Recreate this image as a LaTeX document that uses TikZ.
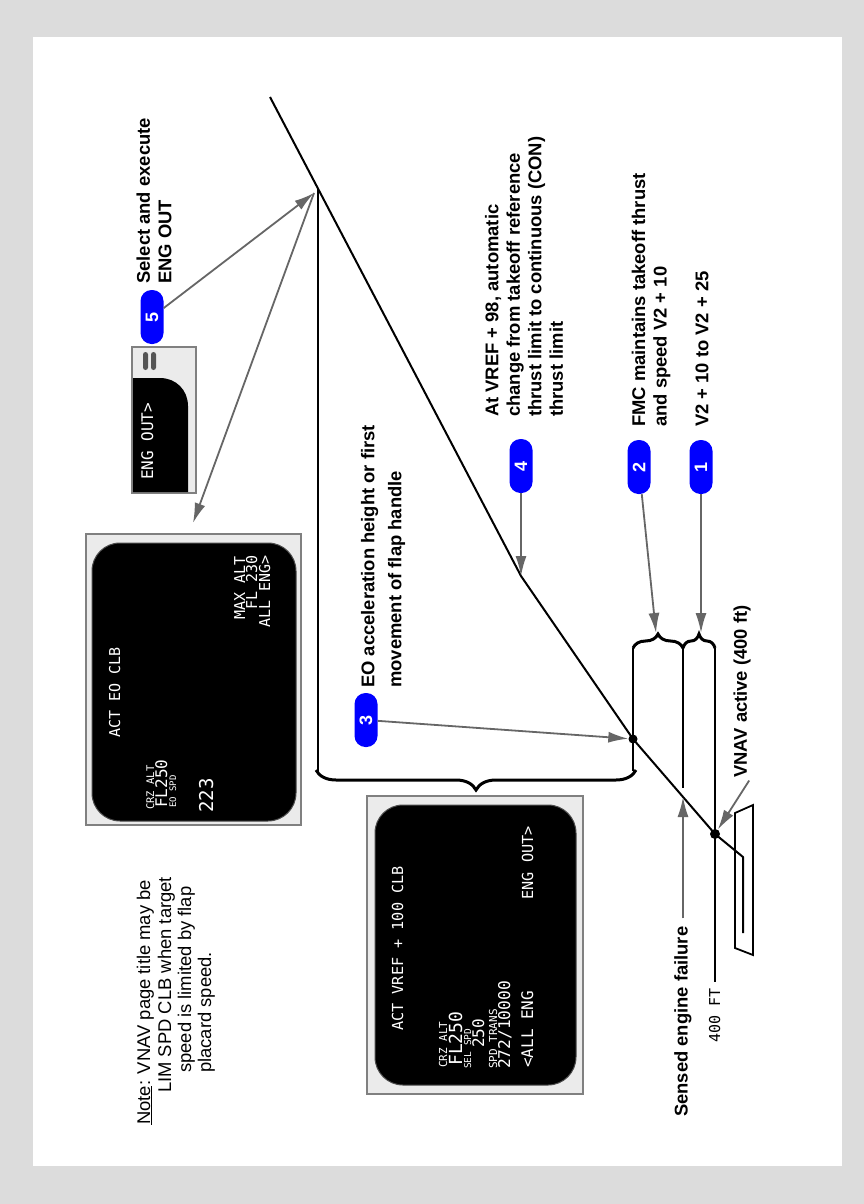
\documentclass[tikz,border=0pt]{standalone}
\usepackage{fontspec}
\setmainfont{Liberation Sans}
\newfontfamily\cdufont{DejaVu Sans Mono}
\usetikzlibrary{arrows.meta,decorations.pathreplacing}
\definecolor{bg}{HTML}{DCDCDC}
\definecolor{scrfill}{HTML}{EBEBEB}
\definecolor{scrline}{HTML}{808080}
\definecolor{arrgray}{HTML}{666666}
\definecolor{pillblue}{HTML}{0000FF}
\definecolor{barcol}{HTML}{555555}
\newcommand{\cdusz}[1]{\cdufont\fontsize{#1}{#1}\selectfont}
\begin{document}
\begin{tikzpicture}[x=1pt,y=-1pt,
  lbl/.style={rotate=90, inner sep=0pt, align=left, font=\bfseries\fontsize{18.4}{21.5}\selectfont},
  notetxt/.style={rotate=90, inner sep=0pt, anchor=base west, font=\fontsize{18.4}{21}\selectfont},
  cdu/.style={rotate=90, inner sep=0pt, text=white},
  pill/.style={rotate=90, fill=pillblue, text=white, minimum width=54pt, minimum height=23pt, rounded corners=11pt, inner sep=0pt, font=\bfseries\fontsize{18}{18}\selectfont},
  arr/.style={draw=arrgray, line width=1.8pt, -{Latex[length=20pt,width=11pt]}},
  fpath/.style={line width=2pt, line join=round},
  vline/.style={line width=2.2pt},
  brc/.style={line width=3pt, decorate},
  dot/.style={circle, fill=black, inner sep=0pt},
  scrbox/.style={fill=scrfill, draw=scrline, line width=1.6pt},
  scrblack/.style={fill=black, draw=black!70!white, line width=1pt, rounded corners=28pt}
]
% background
\fill[bg] (0,0) rectangle (864,1204);
\fill[white] (33,37) rectangle (842,1166);
\useasboundingbox (0,0) rectangle (864,1204);

% ---------- screen A (ACT EO CLB) ----------
\draw[scrbox] (86,534) rectangle (301,825);
\draw[scrblack] (92,543) rectangle (296,821);
\node[cdu, anchor=base west, font=\cdusz{15}] (aTitle) at (120,738) {ACT EO CLB};
\node[cdu, anchor=base west, font=\cdusz{10.5}] (aCrz) at (154,810) {CRZ ALT};
\node[cdu, anchor=base west, font=\cdusz{16}] (aFl) at (167,808) {FL250};
\node[cdu, anchor=base west, font=\cdusz{9}] (aEo) at (176,808) {EO SPD};
\node[cdu, anchor=base west, font=\cdusz{19}] (aSpd) at (213,813) {223};
\node[cdu, anchor=base east, font=\cdusz{15}] (aMax) at (245,556) {MAX ALT};
\node[cdu, anchor=base east, font=\cdusz{15}] (aMaxFl) at (257,555) {FL 230};
\node[cdu, anchor=base east, font=\cdusz{15}] (aAll) at (270,555) {ALL ENG>};

% ---------- screen B (ENG OUT partial) ----------
\draw[scrbox] (132,347) rectangle (196,493);
\fill[black] (133,492) -- (133,378) -- (160,378) .. controls (176,378) and (188,390) .. (188,406) -- (188,492) -- cycle;
\fill[barcol, rounded corners=2.5pt] (143,352) rectangle (148,370);
\fill[barcol, rounded corners=2.5pt] (151,352) rectangle (156,370);
\node[cdu, anchor=base west, font=\cdusz{16}] (bEng) at (153,480) {ENG OUT>};

% ---------- screen C (ACT VREF + 100 CLB) ----------
\draw[scrbox] (367,796) rectangle (583,1094);
\draw[scrblack] (375,805) rectangle (576,1085);
\node[cdu, anchor=base west, font=\cdusz{15.2}] (cTitle) at (403,1031) {ACT VREF + 100 CLB};
\node[cdu, anchor=base west, font=\cdusz{11}] (cCrz) at (447,1068) {CRZ ALT};
\node[cdu, anchor=base west, font=\cdusz{18}] (cFl) at (462,1066) {FL250};
\node[cdu, anchor=base west, font=\cdusz{9.5}] (cSel) at (471,1069) {SEL SPD};
\node[cdu, anchor=base west, font=\cdusz{16}] (cSpd) at (484,1048) {250};
\node[cdu, anchor=base west, font=\cdusz{11}] (cTr) at (497,1069) {SPD TRANS};
\node[cdu, anchor=base west, font=\cdusz{16.2}] (cTrV) at (510,1069) {272/10000};
\node[cdu, anchor=base west, font=\cdusz{16}] (cAll) at (533,1068) {<ALL ENG};
\node[cdu, anchor=base east, font=\cdusz{15.2}] (cEng) at (533,826) {ENG OUT>};

% ---------- flight path ----------
\coordinate (top) at (270,97);
\coordinate (kink) at (521,576);
\node[dot, minimum size=9pt] (d1) at (633,739) {};
\node[dot, minimum size=10pt] (d2) at (715,834) {};
\coordinate (lift) at (743,857);
\coordinate (roll) at (743,933);
\draw[fpath] (roll) -- (lift) -- (d2.center) -- (d1.center) -- (kink) -- (top);
\draw[line width=1.8pt, line join=miter] (735,813) -- (753,805) -- (753,955) -- (735,948) -- cycle;

% vertical reference lines
\coordinate (v1t) at (318,189); \coordinate (v1b) at (318,771);
\coordinate (v2t) at (633,648); \coordinate (v2b) at (633,771);
\coordinate (v3t) at (683,648); \coordinate (v3b) at (683,788);
\coordinate (v4t) at (715,648); \coordinate (v4b) at (715,982);
\draw[vline] (v1t) -- (v1b);
\draw[vline] (v2t) -- (v2b);
\draw[vline] (v3t) -- (v3b);
\draw[vline] (v4t) -- (v4b);

% braces
\draw[brc, decoration={brace, amplitude=20pt}] (636,770) -- (316,770);
\draw[brc, decoration={brace, amplitude=14pt}] (v2t) -- (v3t);
\draw[brc, decoration={brace, amplitude=14pt}] (v3t) -- (v4t);

% ---------- badges ----------
\node[pill] (b5) at (152,317) {5};
\node[pill] (b4) at (521,466) {4};
\node[pill] (b2) at (639,467) {2};
\node[pill] (b1) at (701,467) {1};
\node[pill] (b3) at (366,720) {3};

% ---------- labels ----------
\node[lbl, anchor=west] (l5) at (154,284) {Select and execute\\ENG OUT};
\node[lbl, anchor=west] (l4) at (524,417) {At VREF + 98, automatic\\change from takeoff reference\\thrust limit to continuous (CON)\\thrust limit};
\node[lbl, anchor=west] (l2) at (651,427) {FMC maintains takeoff thrust\\and speed V2 + 10};
\node[lbl, anchor=west] (l1) at (702,427) {V2 + 10 to V2 + 25};
\node[lbl, anchor=west, font=\bfseries\fontsize{18.4}{27}\selectfont] (l3) at (383,688) {EO acceleration height or first\\movement of flap handle};
\node[lbl, anchor=west] (sef) at (683,1117) {Sensed engine failure};
\node[lbl, anchor=west] (vnav) at (742,778) {VNAV active (400 ft)};
\node[cdu, text=black, anchor=base west, font=\cdusz{15}] (ft) at (720,1043) {400 FT};

% note
\node[notetxt] (n1) at (150,1125) {\underline{Note}: VNAV page title may be};
\node[notetxt] (n2) at (171,1093) {LIM SPD CLB when target};
\node[notetxt] (n3) at (191,1073) {speed is limited by flap};
\node[notetxt] (n4) at (211,1073) {placard speed.};

% ---------- arrows ----------
\coordinate (v5) at (314,193);
\coordinate (scrA) at (193,523);
\coordinate (br1) at (656,633);
\coordinate (br2) at (701,633);
\coordinate (sefT) at (683,797);
\draw[arr] (b5) -- (v5);
\draw[arr] (v5) -- (scrA);
\draw[arr] (b4) -- (kink);
\draw[arr] (b2) -- (br1);
\draw[arr] (b1) -- (br2);
\draw[arr] (b3) -- (d1);
\draw[arr, shorten <=8pt] (sef) -- (sefT);
\draw[arr, shorten <=3pt] (vnav.south west) -- (d2);
\end{tikzpicture}
\end{document}
